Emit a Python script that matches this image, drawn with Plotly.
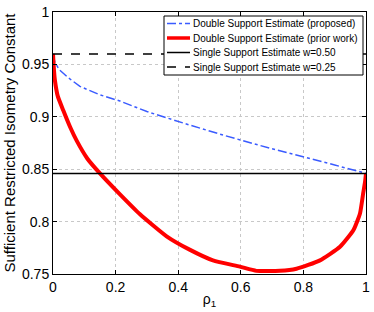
import plotly.graph_objects as go

# Data
blue_x = [0, 0.006, 0.02, 0.05, 0.086, 0.15, 0.214, 0.3, 0.438, 0.55, 0.693, 0.8, 0.9, 1.0]
blue_y = [0.96, 0.952, 0.945, 0.937, 0.929, 0.921, 0.915, 0.905, 0.892, 0.882, 0.870, 0.862, 0.854, 0.846]

red_x = [0, 0.003, 0.006, 0.015, 0.033, 0.055, 0.076, 0.11, 0.15, 0.214, 0.278, 0.363, 0.438,
         0.511, 0.597, 0.65, 0.725, 0.778, 0.853, 0.917, 0.96, 0.981, 0.991, 0.997, 1.0]
red_y = [0.96, 0.945, 0.935, 0.92, 0.906, 0.89, 0.877, 0.86, 0.846, 0.826, 0.807, 0.786, 0.773,
         0.763, 0.757, 0.753, 0.753, 0.755, 0.763, 0.776, 0.792, 0.808, 0.827, 0.838, 0.846]

single_x = [0, 1]
single_w050 = [0.846, 0.846]
single_w025 = [0.96, 0.96]

x_ticks = [0, 0.2, 0.4, 0.6, 0.8, 1]
x_ticktext = ["0", "0.2", "0.4", "0.6", "0.8", "1"]
y_ticks = [0.75, 0.8, 0.85, 0.9, 0.95, 1]
y_ticktext = ["0.75", "0.8", "0.85", "0.9", "0.95", "1"]

names = ["Double Support Estimate (proposed)", "Double Support Estimate (prior work)",
         "Single Support Estimate w=0.50", "Single Support Estimate w=0.25"]
colors = ["#3a5bff", "#ff0000", "black", "black"]
widths = [1.5, 4, 1.5, 1.5]
dashes = ["dashdot", "solid", "solid", "dash"]

W, H = 374, 312
ML, MR, MT, MB = 53, 8, 12, 38
PW, PH = W - ML - MR, H - MT - MB


def px_x(p):
    return (p - ML) / PW


def px_y(p):
    return (H - MB - p) / PH


fig = go.Figure()
fig.add_trace(go.Scatter(x=blue_x, y=blue_y, mode="lines", name=names[0],
                         line=dict(color=colors[0], width=widths[0], dash=dashes[0])))
fig.add_trace(go.Scatter(x=red_x, y=red_y, mode="lines", name=names[1],
                         line=dict(color=colors[1], width=widths[1], shape="spline", smoothing=0.5)))
fig.add_trace(go.Scatter(x=single_x, y=single_w050, mode="lines", name=names[2],
                         line=dict(color=colors[2], width=widths[2], dash=dashes[2])))
fig.add_trace(go.Scatter(x=single_x, y=single_w025, mode="lines", name=names[3],
                         line=dict(color=colors[3], width=widths[3], dash=dashes[3])))

# Custom legend box (drawn above data)
shapes = [dict(type="rect", xref="paper", yref="paper",
               x0=px_x(164), x1=px_x(363), y0=px_y(75), y1=px_y(16),
               fillcolor="white", line=dict(color="black", width=1), layer="above")]
annotations = []
row_y = [23.5, 38, 52.5, 67]
for i, name in enumerate(names):
    shapes.append(dict(type="line", xref="paper", yref="paper",
                       x0=px_x(167), x1=px_x(190), y0=px_y(row_y[i]), y1=px_y(row_y[i]),
                       line=dict(color=colors[i], width=min(widths[i], 3.5), dash=dashes[i]),
                       layer="above"))
    annotations.append(dict(text=name, xref="paper", yref="paper", x=px_x(191), y=px_y(row_y[i]),
                            xanchor="left", yanchor="middle", showarrow=False,
                            font=dict(size=10, color="black")))

axis_common = dict(showline=True, linecolor="black", linewidth=1, mirror="allticks",
                   ticks="inside", ticklen=4, tickcolor="black",
                   showgrid=True, gridcolor="#c8c8c8", griddash="dot", gridwidth=1,
                   zeroline=False, automargin=False, ticklabeloverflow="allow",
                   tickfont=dict(size=14, color="black"))

fig.update_layout(
    width=W, height=H,
    margin=dict(l=ML, r=MR, t=MT, b=MB),
    paper_bgcolor="white", plot_bgcolor="white",
    font=dict(family="Liberation Sans, Arial, sans-serif", color="black"),
    xaxis=dict(range=[0, 1], tickvals=x_ticks, ticktext=x_ticktext,
               title=dict(text="ρ<sub>1</sub>", font=dict(size=14), standoff=0), **axis_common),
    yaxis=dict(range=[0.75, 1], tickvals=y_ticks, ticktext=y_ticktext,
               title=dict(text="Sufficient Restricted Isometry Constant", font=dict(size=15), standoff=2),
               **axis_common),
    shapes=shapes,
    annotations=annotations,
    showlegend=False,
)

fig.write_html("out.html", post_script="document.body.style.margin='0px';",
               config={"displayModeBar": False})
